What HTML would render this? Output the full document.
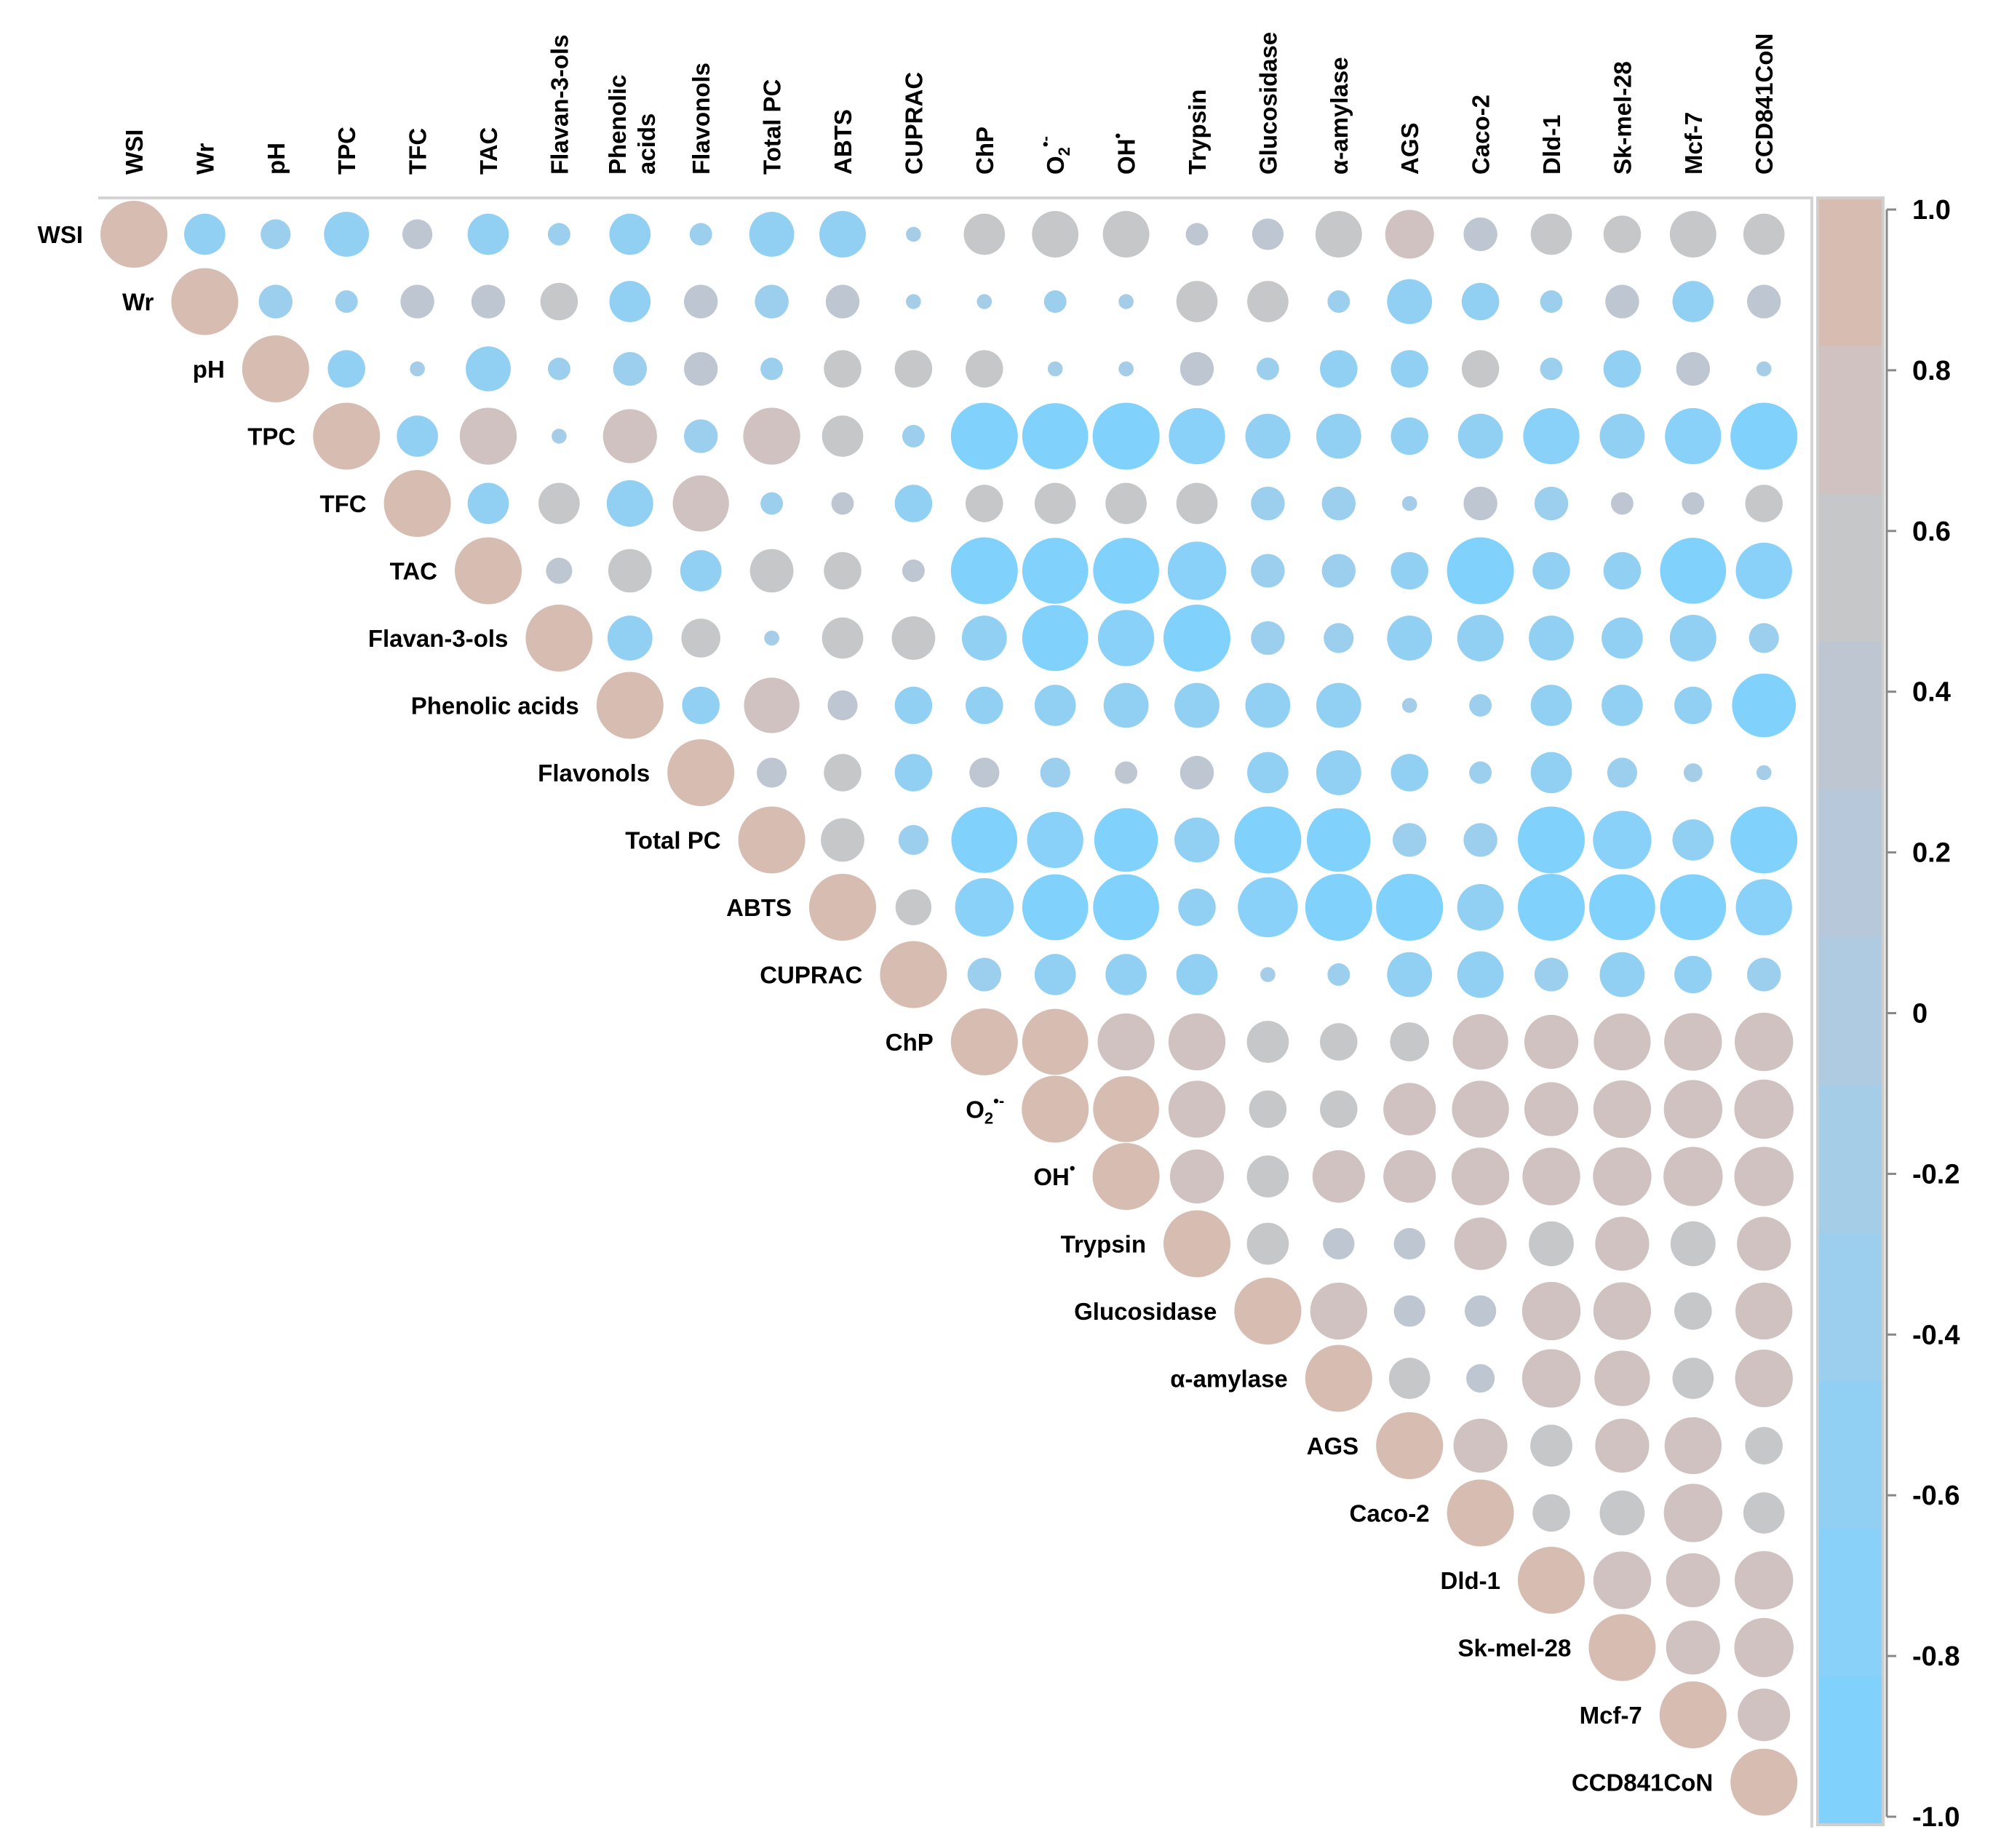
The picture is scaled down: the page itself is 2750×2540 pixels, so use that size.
<!DOCTYPE html>
<html><head><meta charset="utf-8"><style>
html,body{margin:0;padding:0;background:#fff;}
svg{display:block;font-family:"Liberation Sans",sans-serif;font-weight:bold;}
</style></head><body>
<svg id="chart" width="2750" height="2540" viewBox="0 0 2750 2540"></svg>
<script>
const labels=["WSI","Wr","pH","TPC","TFC","TAC","Flavan-3-ols","Phenolic acids","Flavonols","Total PC","ABTS","CUPRAC","ChP","O2","OH","Trypsin","Glucosidase","α-amylase","AGS","Caco-2","Dld-1","Sk-mel-28","Mcf-7","CCD841CoN"];
// upper-triangle correlations, row i holds columns i+1..23
const r0=[-0.55,-0.4,-0.6,0.4,-0.55,-0.3,-0.55,-0.3,-0.6,-0.62,-0.2,0.55,0.62,0.62,0.3,0.42,0.62,0.65,0.45,0.55,0.5,0.62,0.55];
const r1=[-0.45,-0.3,0.45,0.45,0.5,-0.55,0.45,-0.45,0.45,-0.2,-0.2,-0.3,-0.2,0.55,0.55,-0.3,-0.6,-0.5,-0.3,0.45,-0.55,0.45];
const r2=[-0.5,-0.2,-0.6,-0.3,-0.45,0.45,-0.3,0.5,0.5,0.5,-0.2,-0.2,0.45,-0.3,-0.5,-0.5,0.5,-0.3,-0.5,0.45,-0.2];
const r3=[-0.55,0.76,-0.2,0.72,-0.45,0.76,0.55,-0.3,-0.92,-0.88,-0.95,-0.75,-0.6,-0.6,-0.5,-0.6,-0.75,-0.6,-0.75,-0.95];
const r4=[-0.55,0.55,-0.62,0.75,-0.3,0.3,-0.5,0.5,0.55,0.55,0.55,-0.45,-0.45,-0.2,0.45,-0.45,0.3,0.3,0.5];
const r5=[0.35,0.58,-0.55,0.58,0.5,0.3,-0.95,-0.88,-0.88,-0.78,-0.45,-0.45,-0.5,-0.9,-0.5,-0.5,-0.88,-0.75];
const r6=[-0.6,0.52,-0.2,0.55,0.58,-0.6,-0.88,-0.75,-0.92,-0.45,-0.4,-0.6,-0.62,-0.6,-0.55,-0.62,-0.4];
const r7=[-0.5,0.74,0.4,-0.5,-0.5,-0.55,-0.6,-0.6,-0.6,-0.6,-0.2,-0.3,-0.55,-0.55,-0.5,-0.85];
const r8=[0.4,0.5,-0.5,0.4,-0.4,0.3,0.45,-0.55,-0.6,-0.5,-0.3,-0.55,-0.4,-0.25,-0.2];
const r9=[0.58,-0.4,-0.88,-0.75,-0.85,-0.6,-0.95,-0.85,-0.45,-0.45,-0.95,-0.78,-0.55,-0.95];
const r10=[0.48,-0.78,-0.88,-0.88,-0.5,-0.8,-0.9,-0.95,-0.62,-0.95,-0.88,-0.88,-0.75];
const r11=[-0.45,-0.55,-0.55,-0.55,-0.2,-0.3,-0.6,-0.62,-0.45,-0.6,-0.5,-0.45];
const r12=[0.88,0.76,0.76,0.56,0.5,0.52,0.74,0.72,0.76,0.77,0.78];
const r13=[0.88,0.76,0.5,0.5,0.7,0.76,0.72,0.77,0.78,0.79];
const r14=[0.72,0.56,0.7,0.7,0.77,0.77,0.78,0.79,0.79];
const r15=[0.56,0.42,0.42,0.7,0.6,0.72,0.6,0.72];
const r16=[0.76,0.42,0.42,0.78,0.77,0.5,0.76];
const r17=[0.55,0.38,0.78,0.74,0.55,0.77];
const r18=[0.72,0.56,0.72,0.76,0.5];
const r19=[0.5,0.6,0.78,0.55];
const r20=[0.77,0.72,0.78];
const r21=[0.72,0.79];
const r22=[0.7];
const rows=[r0,r1,r2,r3,r4,r5,r6,r7,r8,r9,r10,r11,r12,r13,r14,r15,r16,r17,r18,r19,r20,r21,r22,[]];
const ticks=[1.0,0.8,0.6,0.4,0.2,0,-0.2,-0.4,-0.6,-0.8,-1.0];
const tickText=["1.0","0.8","0.6","0.4","0.2","0","-0.2","-0.4","-0.6","-0.8","-1.0"];

const NS="http://www.w3.org/2000/svg";
const svg=document.getElementById('chart');
function mk(t,a,p){const e=document.createElementNS(NS,t);for(const k in a)e.setAttribute(k,a[k]);(p||svg).appendChild(e);return e;}
const X0=184,DX=97.4,Y0=322,DY=92.5,RMAX=46;
const xs=j=>X0+DX*j, ys=i=>Y0+DY*i;
const bands=["#d6bcb1","#cfc2c1","#c6c7c8","#bec7d1","#b6c8d9","#aecbe1","#a6cde8","#9ccfee","#92d0f3","#89d1f8","#80d2fc"];
function col(v){let k=Math.floor((1-v)/(2/11));if(k<0)k=0;if(k>10)k=10;return bands[k];}
function rad(v){return Math.max(6,Math.min(1,Math.abs(v)*1.12)*RMAX);}

// frame
let fr=mk('path',{d:"M135 272 H2490 V2512",fill:"none",stroke:"#d4d4d4","stroke-width":4});



// column labels
labels.forEach((l,j)=>{
  const g=mk('g',{transform:`translate(${xs(j)+12},240) rotate(-90)`});
  
  
  if(l==="Phenolic acids"){
    const t=mk('text',{x:0,y:-18,"font-size":33},g);t.textContent="Phenolic";
    const t2=mk('text',{x:0,y:22,"font-size":33},g);t2.textContent="acids";
  } else if(l==="O2"){
    const t=mk('text',{x:0,y:0,"font-size":33},g);t.innerHTML='O<tspan font-size="22" dy="8">2</tspan><tspan font-size="22" dy="-26">•-</tspan>';
  } else if(l==="OH"){
    const t=mk('text',{x:0,y:0,"font-size":33},g);t.innerHTML='OH<tspan font-size="22" dy="-16">•</tspan>';
  } else {const t=mk('text',{x:0,y:0,"font-size":33},g);t.textContent=l;}
});

// row labels
labels.forEach((l,i)=>{
  const t=mk('text',{x:xs(i)-70,y:ys(i)+12,"font-size":33,"text-anchor":"end"});
  
  
  if(l==="O2") t.innerHTML='O<tspan font-size="22" dy="8">2</tspan><tspan font-size="22" dy="-24">•-</tspan>';
  else if(l==="OH") t.innerHTML='OH<tspan font-size="22" dy="-16">•</tspan>';
  else t.textContent=l;
});

// circles
for(let i=0;i<24;i++){
  const d=mk('circle',{cx:xs(i),cy:ys(i),r:RMAX,fill:col(1)});
  
  
  rows[i].forEach((v,k)=>{
    const j=i+1+k;
    const c=mk('circle',{cx:xs(j),cy:ys(i),r:rad(v),fill:col(v)});
    
    
  });
}

// colorbar
const CB_TOP=272,CB_BOT=2508,CBX=2498,CBW=90;
const bh=(CB_BOT-CB_TOP)/bands.length;
bands.forEach((b,k)=>{
  const r=mk('rect',{x:CBX,y:CB_TOP+k*bh,width:CBW,height:bh+1,fill:b});
  
  
});
let cbf=mk('rect',{x:CBX,y:CB_TOP,width:CBW,height:CB_BOT-CB_TOP,fill:"none",stroke:"#cfcfcf","stroke-width":4});


const ty=v=>288+(1-v)/2*(2497-288);
let ax=mk('line',{x1:2593,y1:ty(1),x2:2593,y2:ty(-1),stroke:"#888","stroke-width":3});


ticks.forEach((v,k)=>{
  const tl=mk('line',{x1:2593,y1:ty(v),x2:2606,y2:ty(v),stroke:"#888","stroke-width":3});
  
  
  const t=mk('text',{x:2628,y:ty(v)+13,"font-size":38});
  t.textContent=tickText[k];
  
  
});
</script>
</body></html>
